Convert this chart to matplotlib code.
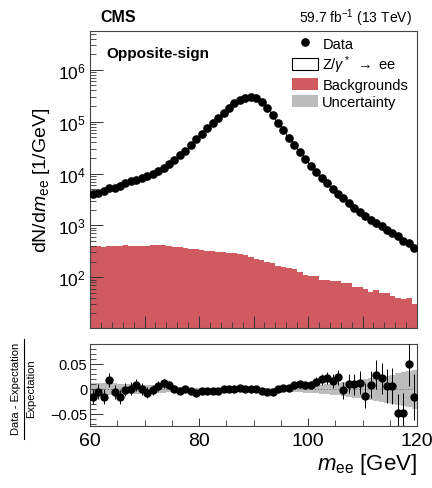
import numpy as np
import matplotlib
matplotlib.use("Agg")
import matplotlib.pyplot as plt
from matplotlib.patches import Patch
from matplotlib.lines import Line2D
from matplotlib.ticker import MultipleLocator, LogLocator, NullFormatter

plt.rcParams['font.family'] = ['Liberation Sans', 'DejaVu Sans']
plt.rcParams['mathtext.fontset'] = 'custom'
plt.rcParams['mathtext.rm'] = 'Liberation Sans'
plt.rcParams['mathtext.it'] = 'Liberation Sans:italic'

# bin edges 60..120 GeV, 1 GeV bins
bin_edges = np.arange(60, 121, 1)
bin_centers = bin_edges[:-1] + 0.5

data = [3980, 4270, 4570, 5250, 5370, 5620, 6460, 7080, 7590, 8130,
        8910, 10000, 11200, 12600, 15100, 18200, 22400, 27500, 34700, 45700,
        58900, 75900, 95500, 120000, 148000, 182000, 224000, 263000, 288000, 295000,
        288000, 240000, 182000, 132000, 93300, 67600, 47900, 34700, 25700, 19100,
        14100, 10700, 8130, 6460, 5010, 4070, 3310, 2690, 2190, 1820,
        1550, 1290, 1120, 955, 832, 708, 617, 501, 457, 372]

backgrounds = [398, 398, 389, 398, 398, 398, 427, 407, 398, 407,
               407, 417, 427, 417, 398, 389, 380, 363, 355, 347,
               331, 316, 316, 309, 302, 295, 288, 275, 263, 245,
               224, 219, 200, 186, 166, 158, 148, 145, 126, 112,
               107, 105, 89, 87, 85, 85, 79, 76, 66, 65,
               59, 52, 58, 50, 50, 44, 40, 38, 40, 31]

ratio = [-0.015, -0.005, -0.015, 0.018, -0.005, -0.015, -0.001, 0.001, 0.009, 0.001,
         -0.007, -0.001, 0.007, 0.012, 0.008, 0.001, -0.004, 0.000, -0.003, -0.007,
         -0.003, -0.003, -0.003, -0.004, 0.000, 0.001, 0.001, 0.003, 0.001, 0.001,
         0.000, -0.003, -0.005, -0.006, 0.001, 0.002, 0.003, 0.009, 0.011, 0.008,
         0.009, 0.015, 0.020, 0.023, 0.016, 0.024, -0.002, 0.011, 0.010, 0.013,
         -0.013, 0.009, 0.029, 0.022, 0.007, 0.007, -0.048, -0.048, 0.050, -0.015]

ratio_err = [0.015, 0.015, 0.015, 0.014, 0.014, 0.014, 0.013, 0.013, 0.012, 0.012,
             0.011, 0.010, 0.010, 0.009, 0.008, 0.007, 0.006, 0.006, 0.005, 0.004,
             0.004, 0.003, 0.003, 0.003, 0.002, 0.002, 0.002, 0.002, 0.002, 0.002,
             0.002, 0.002, 0.002, 0.003, 0.003, 0.004, 0.005, 0.006, 0.006, 0.007,
             0.008, 0.009, 0.011, 0.012, 0.014, 0.015, 0.017, 0.019, 0.021, 0.023,
             0.025, 0.027, 0.029, 0.031, 0.034, 0.036, 0.039, 0.041, 0.044, 0.046]

syst_unc = [0.013, 0.013, 0.013, 0.012, 0.012, 0.011, 0.011, 0.010, 0.010, 0.009,
            0.009, 0.008, 0.008, 0.007, 0.006, 0.005, 0.004, 0.004, 0.003, 0.003,
            0.003, 0.003, 0.003, 0.003, 0.003, 0.003, 0.003, 0.003, 0.003, 0.003,
            0.003, 0.003, 0.003, 0.003, 0.004, 0.004, 0.005, 0.005, 0.006, 0.007,
            0.007, 0.008, 0.009, 0.010, 0.011, 0.012, 0.014, 0.015, 0.017, 0.018,
            0.020, 0.022, 0.024, 0.026, 0.027, 0.029, 0.032, 0.034, 0.036, 0.039]

data = np.array(data, float)
backgrounds = np.array(backgrounds, float)
ratio = np.array(ratio)
ratio_err = np.array(ratio_err)
syst_unc = np.array(syst_unc)
expectation = data / (1 + ratio)

RED = '#cf5b60'
GRAY = '#bcbcbc'

W, H = 432, 489
fig = plt.figure(figsize=(W / 100, H / 100), dpi=100)

def frac(x0, y0, x1, y1):
    return [x0 / W, 1 - y1 / H, (x1 - x0) / W, (y1 - y0) / H]

ax = fig.add_axes(frac(90, 32, 417, 329))
axr = fig.add_axes(frac(90, 345, 417, 427))

# --- main panel
ax.stairs(backgrounds, bin_edges, baseline=1, fill=True, color=RED, lw=0)
ax.stairs(expectation, bin_edges, baseline=None, color='black', lw=0.6)
ax.plot(bin_centers, data, 'o', color='black', ms=5.2, zorder=5)
ax.set_yscale('log')
ax.set_xlim(60, 120)
ax.set_ylim(10.5, 5.6e6)
ax.xaxis.set_major_locator(MultipleLocator(10))
ax.xaxis.set_minor_locator(MultipleLocator(2))
ax.tick_params(axis='x', labelbottom=False)
ax.yaxis.set_major_locator(LogLocator(base=10, numticks=20))
ax.yaxis.set_minor_locator(LogLocator(base=10, subs=np.arange(2, 10), numticks=20))
ax.yaxis.set_minor_formatter(NullFormatter())
ax.set_ylabel(r'dN/d$m_{\mathrm{ee}}$ [1/GeV]', fontsize=14, labelpad=4)

for a in (ax, axr):
    a.tick_params(which='both', direction='in', top=False, right=False, color='#333333')
    a.tick_params(which='major', length=9, width=0.7)
    a.tick_params(which='minor', length=4.5, width=0.6)
    for s in a.spines.values():
        s.set_linewidth(0.8)
        s.set_color('#444444')
ax.tick_params(axis='y', labelsize=12.5, pad=3)

fig.text(100 / W, 1 - 18 / H, 'CMS', fontsize=11.5, fontweight='bold', va='center', ha='left')
fig.text(412 / W, 1 - 18 / H, r'59.7 fb$^{\mathrm{-1}}$ (13 TeV)', fontsize=10, va='center', ha='right')
ax.text(0.05, 0.925, 'Opposite-sign', transform=ax.transAxes, fontsize=11,
        fontweight='bold', va='center', ha='left')

handles = [Line2D([], [], marker='o', color='black', ls='none', ms=5.2),
           Patch(facecolor='white', edgecolor='black', lw=0.8),
           Patch(facecolor=RED, edgecolor='none'),
           Patch(facecolor=GRAY, edgecolor='none')]
labels = ['Data', r'Z/$\gamma^*$ $\rightarrow$ ee', 'Backgrounds', 'Uncertainty']
ax.legend(handles, labels, loc='upper right', bbox_to_anchor=(1.0, 1.01), frameon=False,
          fontsize=10.5, handlelength=1.8, handleheight=0.9, handletextpad=0.3,
          labelspacing=0.2, borderaxespad=0.2)

# --- ratio panel
axr.fill_between(bin_edges, np.append(-syst_unc, -syst_unc[-1]), np.append(syst_unc, syst_unc[-1]),
                 step='post', color=GRAY, lw=0)
axr.axhline(0, color='#666666', lw=0.7, ls=(0, (1, 2)))
axr.errorbar(bin_centers, ratio, yerr=ratio_err, fmt='o', color='black', ms=5,
             elinewidth=0.7, capsize=0, zorder=5)
axr.set_xlim(60, 120)
axr.set_ylim(-0.074, 0.09)
axr.xaxis.set_major_locator(MultipleLocator(20))
axr.xaxis.set_minor_locator(MultipleLocator(5))
axr.yaxis.set_major_locator(MultipleLocator(0.05))
axr.yaxis.set_minor_locator(MultipleLocator(0.01))
axr.set_yticks([-0.05, 0, 0.05])
axr.set_yticklabels(['\u22120.05', '0', '0.05'])
axr.tick_params(axis='y', labelsize=10.5, pad=2)
axr.tick_params(axis='x', labelsize=14, pad=4)
axr.tick_params(axis='x', which='major', length=6)
axr.tick_params(axis='x', which='minor', length=4)
axr.set_xlabel(r'$m_{\mathrm{ee}}$ [GeV]', fontsize=16, loc='right', labelpad=2)

# ratio y label as a fraction
yc = 1 - 389 / H
fig.text(16 / W, yc, 'Data - Expectation', rotation=90, fontsize=8, ha='center', va='center')
fig.text(31 / W, yc, 'Expectation', rotation=90, fontsize=8, ha='center', va='center')
fig.add_artist(Line2D([24 / W, 24 / W], [1 - 440 / H, 1 - 340 / H], color='black', lw=0.8,
                      transform=fig.transFigure))

fig.savefig('out.png', dpi=100)
